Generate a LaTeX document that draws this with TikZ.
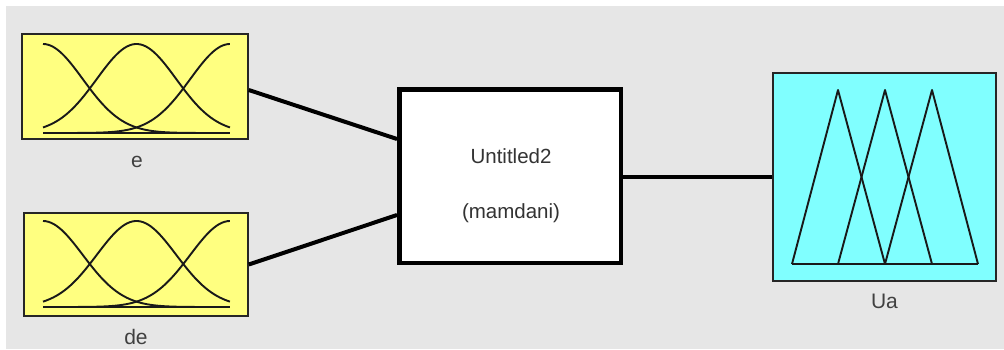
\documentclass[tikz,border=0pt]{standalone}
\usepackage{fontspec}
\setmainfont{Liberation Sans}
\definecolor{panelgray}{RGB}{230,230,230}
\definecolor{inyellow}{RGB}{255,255,128}
\definecolor{outcyan}{RGB}{128,255,255}
\definecolor{labelgray}{RGB}{64,64,64}
\definecolor{mfline}{RGB}{25,25,25}
\tikzset{
  inbox/.style={rectangle, draw=black!85, line width=1.6pt, fill=inyellow, inner sep=0pt},
  outbox/.style={rectangle, draw=black!85, line width=1.6pt, fill=outcyan, inner sep=0pt},
  rulebox/.style={rectangle, draw=black, line width=4.5pt, fill=white, inner sep=0pt},
  mf/.style={draw=mfline, line width=1.9pt, line join=round},
  wire/.style={draw=black, line width=4pt},
  caption/.style={font=\fontsize{21}{24}\selectfont, text=labelgray, inner sep=0pt, anchor=base},
  ruletext/.style={font=\fontsize{20.5}{24}\selectfont, text=black!80, inner sep=0pt, anchor=base}
}
\begin{document}
\begin{tikzpicture}[x=1pt,y=-1pt]
  \useasboundingbox (0,0) rectangle (1004,349);
  \fill[panelgray] (6,6) rectangle (1004,349);

  % input variable e
  \node[inbox, minimum width=226pt, minimum height=105pt] (e) at (135,86.5) {};
  \draw[mf] (43,133) -- (230,133);
  \foreach \c in {-1,0,1}
    \draw[mf] plot[domain=-1:1, samples=70, smooth]
      ({136.5+93.5*\x}, {133-89*exp(-0.5*((\x-\c)/0.4247)^2)});
  \node[caption] (elab) at (137,167) {e};

  % input variable de
  \node[inbox, minimum width=224pt, minimum height=103pt] (de) at (136,264.5) {};
  \draw[mf] (43,307) -- (230,307);
  \foreach \c in {-1,0,1}
    \draw[mf] plot[domain=-1:1, samples=70, smooth]
      ({136.5+93.5*\x}, {307-86*exp(-0.5*((\x-\c)/0.4247)^2)});
  \node[caption] (delab) at (136,344) {de};

  % rule block
  \node[rulebox, minimum width=221.5pt, minimum height=173.5pt] (fis) at (510,176) {};
  \node[ruletext] (fisname) at (511,163) {Untitled2};
  \node[ruletext] (fistype) at (511,218) {(mamdani)};

  % output variable Ua
  \node[outbox, minimum width=223pt, minimum height=208pt] (ua) at (884.5,177) {};
  \draw[mf] (792,264) -- (978,264);
  \draw[mf] (792,264) -- (838,90) -- (885,264);
  \draw[mf] (838,264) -- (885,90) -- (932,264);
  \draw[mf] (885,264) -- (932,90) -- (978,264);
  \node[caption] (ualab) at (884.5,308) {Ua};

  % connections
  \draw[wire] ([yshift=-3.5pt]e.east) -- ([yshift=37pt]fis.west);
  \draw[wire] (de.east) -- ([yshift=-39pt]fis.west);
  \draw[wire] (ua.west -| fis.east) -- (ua.west);
\end{tikzpicture}
\end{document}
